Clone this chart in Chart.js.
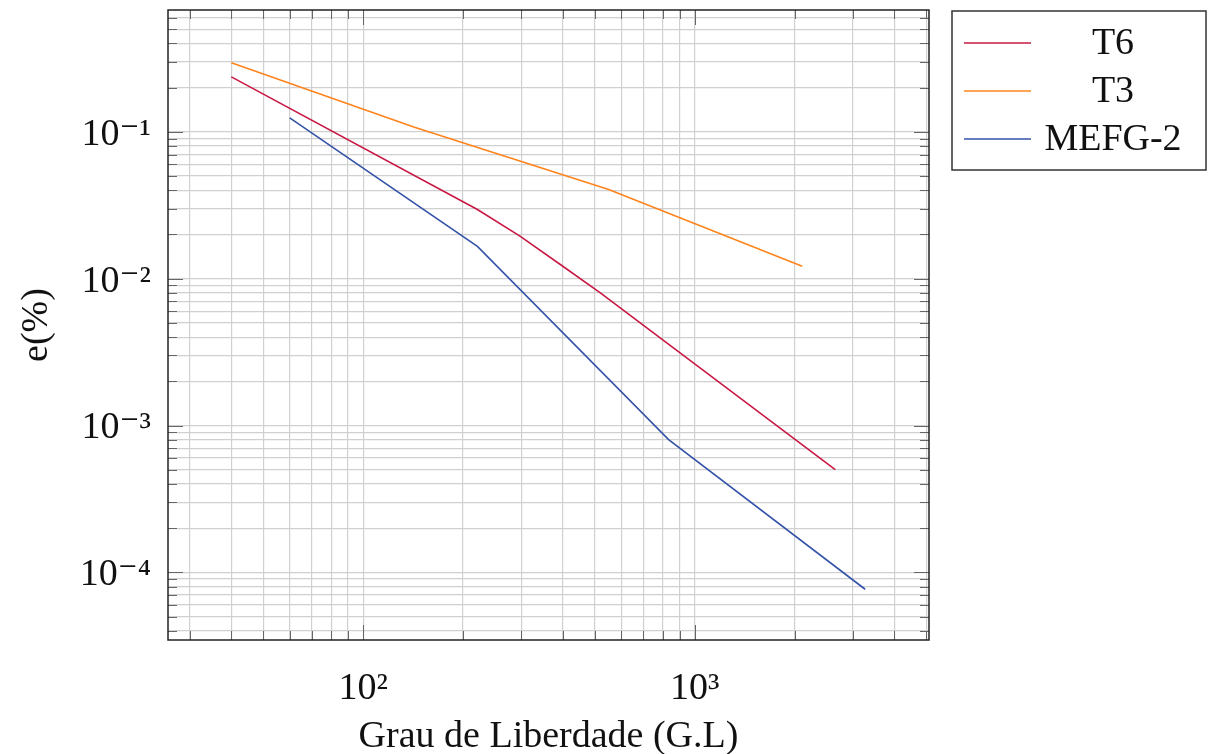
<!DOCTYPE html>
<html>
<head>
<meta charset="utf-8">
<script src="https://cdn.jsdelivr.net/npm/chart.js@4.4.1/dist/chart.umd.min.js"></script>
<style>
  html, body { margin: 0; padding: 0; background: #fff; }
  #wrap { width: 1208px; height: 754px; position: relative; }
</style>
</head>
<body>
<div id="wrap"><canvas id="errChart"></canvas></div>
<script>
// series
const seriesNames = ['T6', 'T3', 'MEFG-2'];
const t6Dof = [40, 221, 297, 397, 519, 2654];
const t6Err = [0.237, 0.0296, 0.0195, 0.0123, 0.0080, 0.00050];
const t3Dof = [40, 142, 550, 2110];
const t3Err = [0.296, 0.108, 0.0405, 0.01214];
const mefgDof = [60, 221, 834, 3266];
const mefgErr = [0.1246, 0.0166, 0.000802, 0.0000767];

// grid / tick values
const xGrid = [30, 40, 50, 60, 70, 80, 90, 100, 200, 300, 400, 500, 600, 700, 800, 900, 1000, 2000, 3000, 4000, 5000];
const xMajor = [100, 1000];
const xMajorLabels = ['10\u00B2', '10\u00B3'];
const yGrid = [0.00004, 0.00005, 0.00006, 0.00007, 0.00008, 0.00009, 0.0001,
  0.0002, 0.0003, 0.0004, 0.0005, 0.0006, 0.0007, 0.0008, 0.0009, 0.001,
  0.002, 0.003, 0.004, 0.005, 0.006, 0.007, 0.008, 0.009, 0.01,
  0.02, 0.03, 0.04, 0.05, 0.06, 0.07, 0.08, 0.09, 0.1,
  0.2, 0.3, 0.4, 0.5, 0.6];
const yMajor = [0.0001, 0.001, 0.01, 0.1];
const yMajorLabels = ['10\u207B\u2074', '10\u207B\u00B3', '10\u207B\u00B2', '10\u207B\u00B9'];

const colors = ['rgb(200, 24, 68)', 'rgb(255, 132, 28)', 'rgb(52, 82, 168)'];
const serif = "'Liberation Serif', 'DejaVu Serif', serif";

function pts(xs, ys) {
  return xs.map((x, i) => ({ x: x, y: ys[i] }));
}

function isMajor(list, v) {
  return list.some(m => Math.abs(m - v) / m < 1e-6);
}

// box around plot + inner tick marks + legend box
const frame = {
  id: 'frame',
  afterDraw(chart) {
    const { ctx, chartArea: a, scales } = chart;
    ctx.save();
    ctx.strokeStyle = '#666';
    ctx.lineWidth = 1;
    scales.x.ticks.forEach(t => {
      const px = Math.round(scales.x.getPixelForValue(t.value)) + 0.5;
      const len = isMajor(xMajor, t.value) ? 15 : 9;
      ctx.beginPath();
      ctx.moveTo(px, a.bottom); ctx.lineTo(px, a.bottom - len);
      ctx.moveTo(px, a.top); ctx.lineTo(px, a.top + len);
      ctx.stroke();
    });
    scales.y.ticks.forEach(t => {
      const py = Math.round(scales.y.getPixelForValue(t.value)) + 0.5;
      const len = isMajor(yMajor, t.value) ? 15 : 9;
      ctx.beginPath();
      ctx.moveTo(a.left, py); ctx.lineTo(a.left + len, py);
      ctx.moveTo(a.right, py); ctx.lineTo(a.right - len, py);
      ctx.stroke();
    });
    ctx.strokeStyle = '#222';
    ctx.lineWidth = 1.5;
    ctx.strokeRect(a.left, a.top, a.right - a.left, a.bottom - a.top);

    // legend
    const bx = 952, by = 11, bw = 254, bh = 159;
    ctx.fillStyle = '#fff';
    ctx.fillRect(bx, by, bw, bh);
    ctx.strokeStyle = '#333';
    ctx.lineWidth = 1.5;
    ctx.strokeRect(bx, by, bw, bh);
    ctx.font = '38px ' + serif;
    ctx.textAlign = 'center';
    ctx.textBaseline = 'middle';
    chart.data.datasets.forEach((ds, i) => {
      const ly = 43 + i * 48;
      ctx.strokeStyle = ds.borderColor;
      ctx.lineWidth = 1.6;
      ctx.beginPath();
      ctx.moveTo(964, ly); ctx.lineTo(1031, ly);
      ctx.stroke();
      ctx.fillStyle = '#111';
      ctx.fillText(ds.label, 1113, ly + 1);
    });
    ctx.restore();
  }
};

new Chart(document.getElementById('errChart'), {
  type: 'line',
  data: {
    datasets: [
      { label: seriesNames[0], data: pts(t6Dof, t6Err), borderColor: colors[0] },
      { label: seriesNames[1], data: pts(t3Dof, t3Err), borderColor: colors[1] },
      { label: seriesNames[2], data: pts(mefgDof, mefgErr), borderColor: colors[2] }
    ].map(d => Object.assign(d, { borderWidth: 1.6, pointRadius: 0, tension: 0, fill: false }))
  },
  options: {
    responsive: true,
    maintainAspectRatio: false,
    animation: false,
    layout: { padding: { left: 0, right: 279, top: 10, bottom: 0 } },
    plugins: {
      legend: { display: false },
      tooltip: { enabled: false }
    },
    scales: {
      x: {
        type: 'logarithmic',
        min: 25.76,
        max: 5090,
        afterBuildTicks: s => { s.ticks = xGrid.map(v => ({ value: v })); },
        afterFit: s => { s.height = 114; s.paddingLeft = 0; s.paddingRight = 0; },
        grid: { color: '#d0d0d0', lineWidth: 1.2, drawTicks: false },
        border: { display: false },
        ticks: {
          autoSkip: false,
          maxRotation: 0,
          padding: 26,
          color: '#111',
          font: { family: serif, size: 38 },
          callback: v => {
            const i = xMajor.findIndex(m => Math.abs(m - v) / m < 1e-6);
            return i >= 0 ? xMajorLabels[i] : '';
          }
        },
        title: {
          display: true,
          text: 'Grau de Liberdade (G.L)',
          color: '#111',
          font: { family: serif, size: 38, lineHeight: 0.9 },
          padding: { top: 0, bottom: 0 }
        }
      },
      y: {
        type: 'logarithmic',
        min: 3.46e-5,
        max: 0.676,
        afterBuildTicks: s => { s.ticks = yGrid.map(v => ({ value: v })); },
        afterFit: s => { s.width = 168; s.paddingTop = 0; s.paddingBottom = 0; },
        grid: { color: '#d0d0d0', lineWidth: 1.2, drawTicks: false },
        border: { display: false },
        ticks: {
          autoSkip: false,
          padding: 17,
          labelOffset: 3,
          color: '#111',
          font: { family: serif, size: 38 },
          callback: v => {
            const i = yMajor.findIndex(m => Math.abs(m - v) / m < 1e-6);
            return i >= 0 ? yMajorLabels[i] : '';
          }
        },
        title: {
          display: true,
          text: 'e(%)',
          color: '#111',
          font: { family: serif, size: 38, lineHeight: 1 },
          padding: { top: 18, bottom: 0 }
        }
      }
    }
  },
  plugins: [frame]
});
</script>
</body>
</html>
